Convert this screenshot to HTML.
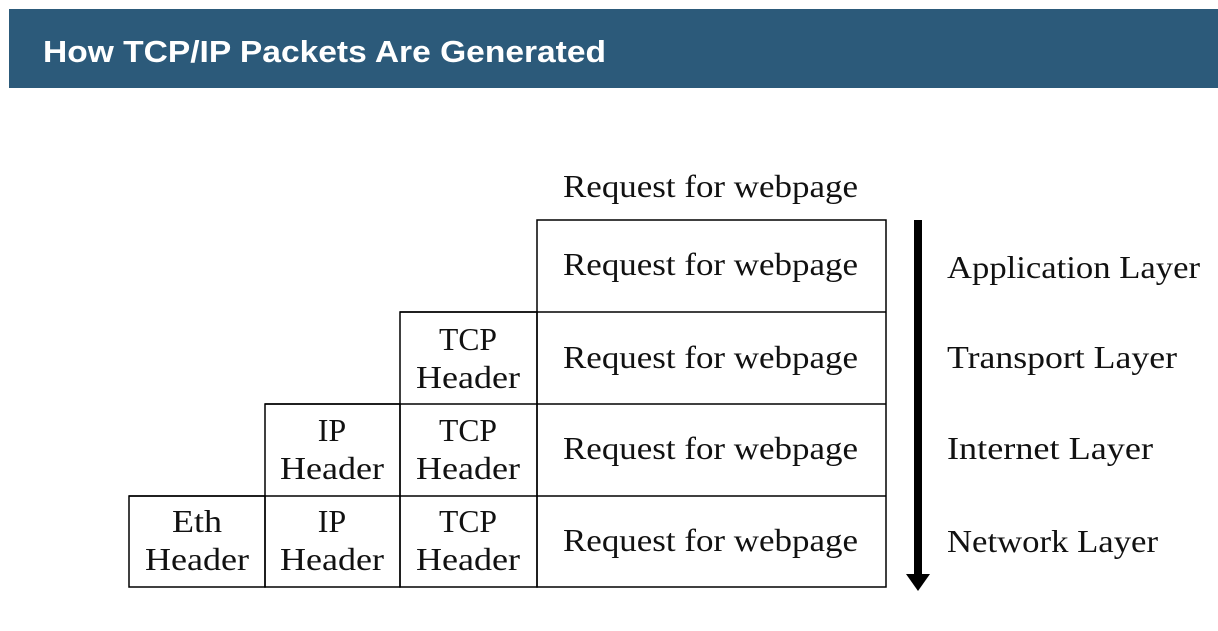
<!DOCTYPE html>
<html><head><style>html,body{margin:0;padding:0;background:#fff;}</style></head>
<body>
<svg width="1218" height="626" xmlns="http://www.w3.org/2000/svg">
<rect x="9" y="9" width="1209" height="79" fill="#2c5a7a"/>
<text x="43" y="62" font-family="Liberation Sans, sans-serif" font-weight="bold" font-size="31" fill="#fff" textLength="563" lengthAdjust="spacingAndGlyphs">How TCP/IP Packets Are Generated</text>
<g fill="none" stroke="#000" stroke-width="1.5">
<rect x="537" y="220" width="349" height="367"/>
<rect x="400" y="312" width="137" height="275"/>
<rect x="265" y="404" width="135" height="183"/>
<rect x="129" y="496" width="136" height="91"/>
<line x1="400" y1="312" x2="537" y2="312"/>
<line x1="537" y1="312" x2="886" y2="312"/>
<line x1="265" y1="404" x2="886" y2="404"/>
<line x1="129" y1="496" x2="886" y2="496"/>
</g>
<rect x="914" y="220" width="8" height="356" fill="#000"/>
<polygon points="906,574 930,574 918,591" fill="#000"/>
<g font-family="Liberation Serif, serif" font-size="32" fill="#111">
<text x="563" y="197" textLength="295" lengthAdjust="spacingAndGlyphs">Request for webpage</text>
<text x="563" y="275" textLength="295" lengthAdjust="spacingAndGlyphs">Request for webpage</text>
<text x="563" y="368" textLength="295" lengthAdjust="spacingAndGlyphs">Request for webpage</text>
<text x="563" y="459" textLength="295" lengthAdjust="spacingAndGlyphs">Request for webpage</text>
<text x="563" y="551" textLength="295" lengthAdjust="spacingAndGlyphs">Request for webpage</text>
<g text-anchor="middle">
<text x="468" y="350" textLength="58" lengthAdjust="spacingAndGlyphs">TCP</text><text x="468" y="388" textLength="104" lengthAdjust="spacingAndGlyphs">Header</text>
<text x="468" y="441" textLength="58" lengthAdjust="spacingAndGlyphs">TCP</text><text x="468" y="479" textLength="104" lengthAdjust="spacingAndGlyphs">Header</text>
<text x="468" y="532" textLength="58" lengthAdjust="spacingAndGlyphs">TCP</text><text x="468" y="570" textLength="104" lengthAdjust="spacingAndGlyphs">Header</text>
<text x="332" y="441">IP</text><text x="332" y="479" textLength="104" lengthAdjust="spacingAndGlyphs">Header</text>
<text x="332" y="532">IP</text><text x="332" y="570" textLength="104" lengthAdjust="spacingAndGlyphs">Header</text>
<text x="197" y="532" textLength="50" lengthAdjust="spacingAndGlyphs">Eth</text><text x="197" y="570" textLength="104" lengthAdjust="spacingAndGlyphs">Header</text>
</g>
<text x="947" y="278" textLength="253" lengthAdjust="spacingAndGlyphs">Application Layer</text>
<text x="947" y="368" textLength="230" lengthAdjust="spacingAndGlyphs">Transport Layer</text>
<text x="947" y="459" textLength="206" lengthAdjust="spacingAndGlyphs">Internet Layer</text>
<text x="947" y="552" textLength="211" lengthAdjust="spacingAndGlyphs">Network Layer</text>
</g>
</svg>
</body></html>
